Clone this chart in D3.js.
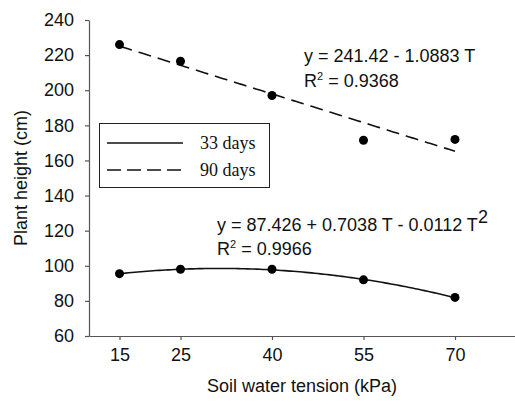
<!DOCTYPE html>
<html>
<head>
<meta charset="utf-8">
<script src="https://cdn.jsdelivr.net/npm/d3@7"></script>
<style>
  html, body { margin: 0; padding: 0; background: #fff; }
  svg { display: block; }
</style>
</head>
<body>
<svg id="chart" width="515" height="406"></svg>
<script>
// Soil water tension treatments (kPa)
const tension = [15, 25, 40, 55, 70];
// Mean plant height (cm) at each tension
const height33 = [95.5, 98, 98, 92, 82];
const height90 = [226, 216.5, 197, 171.5, 172];
// Axis ticks
const xTicks = [15, 25, 40, 55, 70];
const yTicks = [60, 80, 100, 120, 140, 160, 180, 200, 220, 240];
// Fitted regression coefficients
const fit90 = [241.42, -1.0883];          // linear
const fit33 = [87.426, 0.7038, -0.0112];  // quadratic
const legendLabels = ["33 days", "90 days"];

const svg = d3.select("#chart");
const sans = "Liberation Sans, Arial, sans-serif";
const serif = "Liberation Serif, Times New Roman, serif";

const x = d3.scaleLinear().domain([10, 80]).range([89, 516]);
const y = d3.scaleLinear().domain([60, 240]).range([336, 20]);

// Axes
const xAxis = svg.append("g").attr("transform", `translate(0,${y(60)})`)
  .call(d3.axisBottom(x).tickValues(xTicks).tickSize(4).tickPadding(6).tickSizeOuter(0));
const yAxis = svg.append("g").attr("transform", `translate(${x(10)},0)`)
  .call(d3.axisLeft(y).tickValues(yTicks).tickSize(4).tickPadding(11).tickSizeOuter(0));
[xAxis, yAxis].forEach(g => {
  g.select(".domain").attr("stroke", "#555").attr("stroke-width", 1.2);
  g.selectAll(".tick line").attr("stroke", "#555").attr("stroke-width", 1.2);
  g.selectAll(".tick text").attr("fill", "#111").style("font-family", sans).style("font-size", "18px");
});
xAxis.selectAll(".tick text").attr("dy", "0.85em");

// Axis titles
svg.append("text")
  .attr("transform", `translate(22,${(y(60) + y(240)) / 2}) rotate(-90)`)
  .attr("text-anchor", "middle").attr("dominant-baseline", "middle")
  .style("font-family", sans).style("font-size", "18px").attr("fill", "#111")
  .text("Plant height (cm)");
svg.append("text")
  .attr("x", 302).attr("y", 392)
  .attr("text-anchor", "middle")
  .style("font-family", sans).style("font-size", "18px").attr("fill", "#111")
  .text("Soil water tension (kPa)");

// Fitted curves
const tGrid = d3.range(15, 70.01, 0.5);
const line = d3.line().x(d => x(d[0])).y(d => y(d[1]));
const pred90 = t => fit90[0] + fit90[1] * t;
const pred33 = t => fit33[0] + fit33[1] * t + fit33[2] * t * t;

svg.append("path")
  .attr("d", line(tGrid.map(t => [t, pred90(t)])))
  .attr("fill", "none").attr("stroke", "#111").attr("stroke-width", 1.6)
  .attr("stroke-dasharray", "13,7");
svg.append("path")
  .attr("d", line(tGrid.map(t => [t, pred33(t)])))
  .attr("fill", "none").attr("stroke", "#111").attr("stroke-width", 1.6);

// Observed means
[height33, height90].forEach(series => {
  svg.append("g").selectAll("circle")
    .data(tension.map((t, i) => [t, series[i]]))
    .join("circle")
    .attr("cx", d => x(d[0])).attr("cy", d => y(d[1]))
    .attr("r", 4.5).attr("fill", "#000");
});

// Regression equations
const eq = svg.append("g").style("font-family", sans).attr("fill", "#111");
const eq90 = eq.append("text").attr("x", 304).attr("y", 62).style("font-size", "18px");
eq90.text(`y = ${fit90[0]} - ${Math.abs(fit90[1])} T`);
const r90 = eq.append("text").attr("x", 304).attr("y", 87).style("font-size", "18px");
r90.append("tspan").text("R");
r90.append("tspan").attr("dy", -7).style("font-size", "11px").text("2");
r90.append("tspan").attr("dy", 7).text(" = 0.9368");

const eq33 = eq.append("text").attr("x", 217).attr("y", 231).style("font-size", "18px");
eq33.append("tspan").text(`y = ${fit33[0]} + ${fit33[1]} T - ${Math.abs(fit33[2])} T`);
eq33.append("tspan").attr("dy", -8).style("font-size", "18px").text("2");
const r33 = eq.append("text").attr("x", 217).attr("y", 255).style("font-size", "18px");
r33.append("tspan").text("R");
r33.append("tspan").attr("dy", -7).style("font-size", "11px").text("2");
r33.append("tspan").attr("dy", 7).text(" = 0.9966");

// Legend
const lg = svg.append("g");
lg.append("rect").attr("x", 99.5).attr("y", 123.5).attr("width", 170).attr("height", 64)
  .attr("fill", "#fff").attr("stroke", "#222").attr("stroke-width", 1);
legendLabels.forEach((lab, i) => {
  const yy = 143 + i * 27;
  lg.append("line").attr("x1", 107).attr("x2", 183).attr("y1", yy).attr("y2", yy)
    .attr("stroke", "#111").attr("stroke-width", 1.3)
    .attr("stroke-dasharray", i === 1 ? "14,6" : null);
  lg.append("text").attr("x", 200).attr("y", yy + 6)
    .style("font-family", serif).style("font-size", "18px").attr("fill", "#111")
    .text(lab);
});
</script>
</body>
</html>
